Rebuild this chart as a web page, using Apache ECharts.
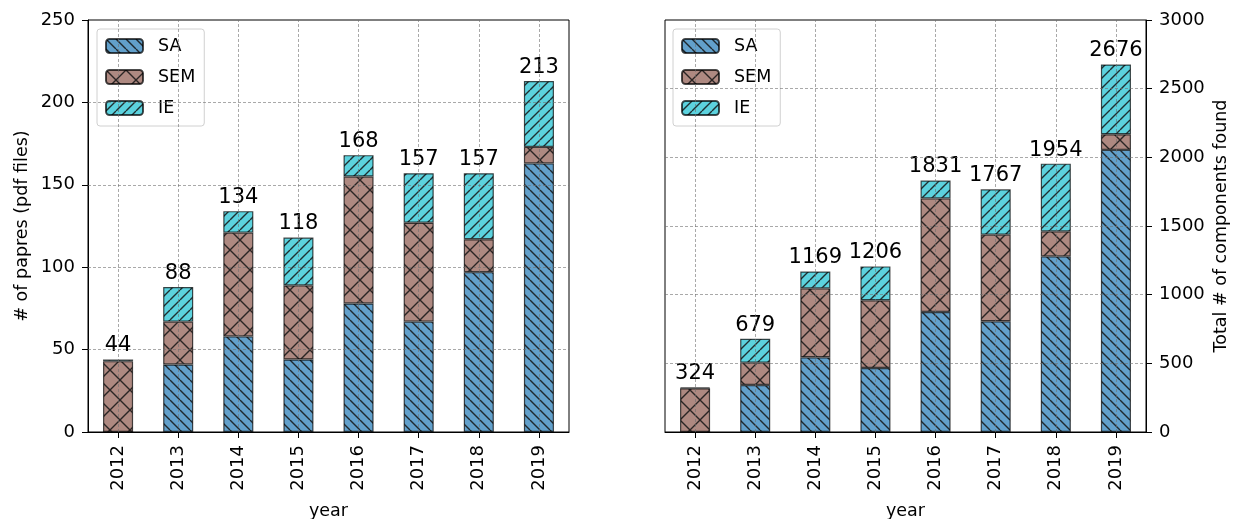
<!DOCTYPE html>
<html>
<head>
<meta charset="utf-8">
<script src="https://cdn.jsdelivr.net/npm/echarts@6/dist/echarts.min.js"></script>
<style>
html,body{margin:0;padding:0;background:#fff;}
#c{width:1236px;height:519px;}
</style>
</head>
<body>
<div id="c"></div>
<script>
// ---- data ----
const years = ['2012','2013','2014','2015','2016','2017','2018','2019'];
const papersSA  = [0, 41, 58, 44, 78, 67, 97, 163];
const papersSEM = [43, 26, 63, 45, 77, 60, 20, 10];
const papersIE  = [1, 21, 13, 29, 13, 30, 40, 40];
const papersTotal = [44, 88, 134, 118, 168, 157, 157, 213];
const compSA  = [0, 342, 544, 466, 874, 806, 1279, 2054];
const compSEM = [318, 163, 502, 493, 827, 631, 182, 114];
const compIE  = [6, 174, 123, 247, 130, 330, 493, 508];
const compTotal = [324, 679, 1169, 1206, 1831, 1767, 1954, 2676];
const papersTicks = [0, 50, 100, 150, 200, 250];
const compTicks = [0, 500, 1000, 1500, 2000, 2500, 3000];
const seriesNames = ['SA', 'SEM', 'IE'];

// ---- styles ----
const FONT = 'DejaVu Sans';
function hatch(bg, kind, size) {
  const c = document.createElement('canvas');
  c.width = size; c.height = size;
  const g = c.getContext('2d');
  g.fillStyle = bg; g.fillRect(0, 0, size, size);
  g.strokeStyle = 'rgba(20,20,20,0.85)';
  g.lineWidth = 1.4;
  g.beginPath();
  for (let k = -1; k <= 1; k++) {
    if (kind === '/' || kind === 'x') { g.moveTo(k*size, size); g.lineTo(k*size + size, 0); }
    if (kind === '\\' || kind === 'x') { g.moveTo(k*size, 0); g.lineTo(k*size + size, size); }
  }
  g.stroke();
  return c;
}
const fills = {
  SA:  {image: hatch('#62a0cb', '\\', 10), repeat: 'repeat'},
  SEM: {image: hatch('#ae8981', 'x', 20), repeat: 'repeat'},
  IE:  {image: hatch('#5cd2de', '/', 10), repeat: 'repeat'}
};
const gridColor = 'rgba(110,110,110,0.75)';

function makeSeries(idx, values, totals, ticks) {
  return seriesNames.map((name, i) => {
    const s = {
      name: name,
      type: 'bar',
      stack: 'st' + idx,
      xAxisIndex: idx,
      yAxisIndex: idx,
      barWidth: '50%',
      data: values[i],
      itemStyle: {color: fills[name], borderColor: 'rgba(0,0,0,0.7)', borderWidth: 1.2},
      emphasis: {disabled: true}
    };
    if (i === 2) {
      s.label = {
        show: true, position: 'top', distance: 3,
        fontFamily: FONT, fontSize: 21, color: '#000',
        formatter: p => String(totals[p.dataIndex])
      };
      s.markLine = {
        silent: true, symbol: 'none', z: 5,
        label: {show: false},
        lineStyle: {type: [3, 2], color: gridColor, width: 0.8},
        data: ticks.slice(1, -1).map(v => ({yAxis: v})).concat(years.map(y => ({xAxis: y})))
      };
    }
    return s;
  });
}

const legendCommon = {
  orient: 'vertical', top: 29, padding: [8, 9, 9, 8],
  itemWidth: 37, itemHeight: 14, itemGap: 13,
  backgroundColor: '#fff', borderColor: '#d0d0d0', borderWidth: 1, borderRadius: 3,
  textStyle: {fontFamily: FONT, fontSize: 17.5, color: '#000', lineHeight: 14, padding: [0, 0, 0, 10]},
  data: seriesNames,
  selectedMode: false
};

const xAxisCommon = {
  type: 'category', data: years,
  name: 'year', nameLocation: 'middle', nameGap: 70,
  nameTextStyle: {fontFamily: FONT, fontSize: 17.5, color: '#000'},
  axisLine: {show: true, lineStyle: {color: '#000', width: 1}},
  axisTick: {show: true, alignWithLabel: true, length: 6, lineStyle: {color: '#000'}},
  axisLabel: {rotate: 90, fontFamily: FONT, fontSize: 18, color: '#000', margin: 13},
  splitLine: {show: false}
};

const plainNum = v => String(v);

const chart = echarts.init(document.getElementById('c'), null, {renderer: 'canvas'});
chart.setOption({
  animation: false,
  backgroundColor: '#fff',
  grid: [
    {left: 88, right: 667, top: 20, bottom: 87, show: true, borderColor: '#000', borderWidth: 1, backgroundColor: 'transparent', containLabel: false, outerBoundsMode: 'none'},
    {left: 665, right: 90, top: 20, bottom: 87, show: true, borderColor: '#000', borderWidth: 1, backgroundColor: 'transparent', containLabel: false, outerBoundsMode: 'none'}
  ],
  legend: [
    Object.assign({left: 97}, legendCommon),
    Object.assign({left: 673}, legendCommon)
  ],
  xAxis: [
    Object.assign({gridIndex: 0}, xAxisCommon),
    Object.assign({gridIndex: 1}, xAxisCommon)
  ],
  yAxis: [
    {
      gridIndex: 0, type: 'value', min: papersTicks[0], max: papersTicks[papersTicks.length-1], interval: 50,
      name: '# of papres (pdf files)', nameLocation: 'middle', nameGap: 57,
      nameTextStyle: {fontFamily: FONT, fontSize: 17.5, color: '#000'},
      axisLine: {show: true, lineStyle: {color: '#000'}},
      axisTick: {show: true, length: 6, lineStyle: {color: '#000'}},
      axisLabel: {fontFamily: FONT, fontSize: 18, color: '#000', margin: 13, formatter: plainNum},
      splitLine: {show: false}
    },
    {
      gridIndex: 1, type: 'value', position: 'right', min: compTicks[0], max: compTicks[compTicks.length-1], interval: 500,
      name: 'Total # of components found', nameLocation: 'middle', nameGap: 66, nameRotate: 90,
      nameTextStyle: {fontFamily: FONT, fontSize: 17.5, color: '#000'},
      axisLine: {show: true, lineStyle: {color: '#000'}},
      axisTick: {show: true, length: 6, lineStyle: {color: '#000'}},
      axisLabel: {fontFamily: FONT, fontSize: 18, color: '#000', margin: 13, formatter: plainNum},
      splitLine: {show: false}
    }
  ],
  series: makeSeries(0, [papersSA, papersSEM, papersIE], papersTotal, papersTicks)
    .concat(makeSeries(1, [compSA, compSEM, compIE], compTotal, compTicks))
});
</script>
</body>
</html>
